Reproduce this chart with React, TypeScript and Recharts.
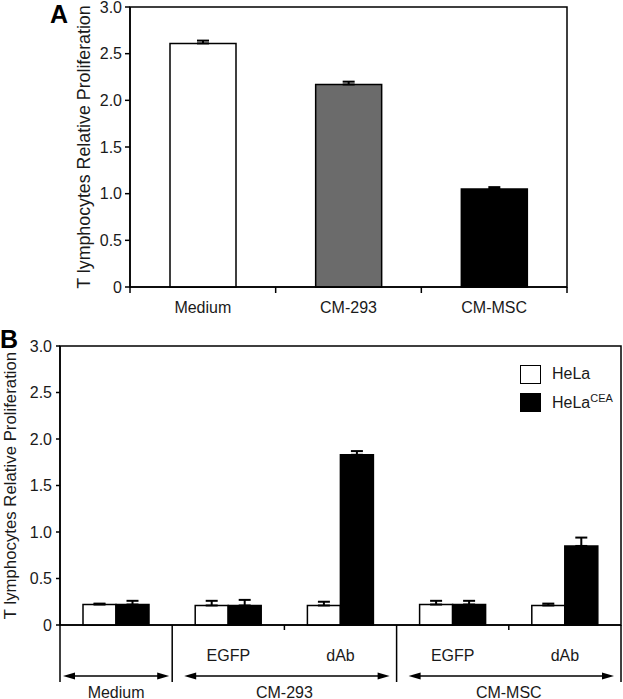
import React from 'react';
import { BarChart, Bar, XAxis, YAxis, ErrorBar, Cell, ReferenceArea, Legend } from 'recharts';

const FONT = '"Liberation Sans", Arial, Helvetica, sans-serif';
const INK = '#1a1a1a';

// Panel A
const categoriesA = ['Medium', 'CM-293', 'CM-MSC'];
const proliferationA = [2.61, 2.17, 1.05];
const errorA = [0.03, 0.03, 0.02];

// Panel B
const categoriesB = ['Medium', 'CM-293 EGFP', 'CM-293 dAb', 'CM-MSC EGFP', 'CM-MSC dAb'];
const subLabelsB = ['', 'EGFP', 'dAb', 'EGFP', 'dAb'];
const groupsB = ['Medium', 'CM-293', 'CM-MSC'];
const groupIndexB = [0, 1, 1, 2, 2];
const helaB = [0.22, 0.21, 0.21, 0.22, 0.21];
const helaErrB = [0.01, 0.05, 0.04, 0.04, 0.02];
const ceaB = [0.22, 0.21, 1.83, 0.22, 0.85];
const ceaErrB = [0.04, 0.06, 0.04, 0.04, 0.09];

const yTicks = [0, 0.5, 1, 1.5, 2, 2.5, 3];

const fillsA = ['#ffffff', '#6b6b6b', '#000000'];

const dataA = categoriesA.map((c, i) => ({
  name: c,
  value: proliferationA[i],
  err: [0, errorA[i]],
}));

const dataB = categoriesB.map((c, i) => ({
  key: c,
  hela: helaB[i],
  helaErr: [0, helaErrB[i]],
  cea: ceaB[i],
  ceaErr: [0, ceaErrB[i]],
}));

// geometry
const W = 623;
const PLOT_W_A = 437;
const PLOT_W_B = 561;
const halfBandA = PLOT_W_A / categoriesA.length / 2;
const halfBandB = PLOT_W_B / categoriesB.length / 2;

const fmtY = (v: number) => (v === 0 ? '0' : v.toFixed(1));

const yLabel = (cx: number, size: number) => (p: any) => {
  const vb = p.viewBox || {};
  const cy = vb.y + vb.height / 2;
  return (
    <text
      x={cx}
      y={cy}
      transform={`rotate(-90, ${cx}, ${cy})`}
      textAnchor="middle"
      dominantBaseline="central"
      fontSize={size}
      fontFamily={FONT}
      fill={INK}
    >
      T lymphocytes Relative Proliferation
    </text>
  );
};

const TickA = (props: any) => {
  const { x, y, index, payload } = props;
  return (
    <g>
      {index === 0 && <line x1={x - halfBandA} x2={x - halfBandA} y1={y} y2={y + 6} stroke="#000" strokeWidth={1.5} />}
      <line x1={x + halfBandA} x2={x + halfBandA} y1={y} y2={y + 6} stroke="#000" strokeWidth={1.5} />
      <text x={x} y={y + 20} textAnchor="middle" dominantBaseline="central" fontSize={16} fontFamily={FONT} fill={INK}>
        {payload.value}
      </text>
    </g>
  );
};

const Arrow = ({ x1, x2, y }: { x1: number; x2: number; y: number }) => (
  <g>
    <line x1={x1 + 8} x2={x2 - 8} y1={y} y2={y} stroke="#000" strokeWidth={1.5} />
    <polygon points={`${x1},${y} ${x1 + 12},${y - 3.5} ${x1 + 12},${y + 3.5}`} fill="#000" />
    <polygon points={`${x2},${y} ${x2 - 12},${y - 3.5} ${x2 - 12},${y + 3.5}`} fill="#000" />
  </g>
);

const TickB = (props: any) => {
  const { x, y, index } = props;
  const left = x - halfBandB;
  const right = x + halfBandB;
  const g = groupIndexB[index];
  const first = index === 0 || groupIndexB[index - 1] !== g;
  const last = index === categoriesB.length - 1 || groupIndexB[index + 1] !== g;
  const span = groupIndexB.filter((v) => v === g).length;
  const groupRight = left + span * 2 * halfBandB;
  const groupCenter = (left + groupRight) / 2;
  return (
    <g>
      {first && <line x1={left} x2={left} y1={y} y2={y + 57} stroke="#000" strokeWidth={1.5} />}
      {index === categoriesB.length - 1 && (
        <line x1={right} x2={right} y1={y} y2={y + 57} stroke="#000" strokeWidth={1.5} />
      )}
      {!last && <line x1={right} x2={right} y1={y} y2={y + 5} stroke="#000" strokeWidth={1.5} />}
      {subLabelsB[index] && (
        <text x={x} y={y + 30} textAnchor="middle" dominantBaseline="central" fontSize={16} fontFamily={FONT} fill={INK}>
          {subLabelsB[index]}
        </text>
      )}
      {first && (
        <>
          <Arrow x1={left + (index === 0 ? 3 : 12)} x2={groupRight - (index === 0 ? 3 : 7)} y={y + 51} />
          <text x={groupCenter} y={y + 67} textAnchor="middle" dominantBaseline="central" fontSize={16} fontFamily={FONT} fill={INK}>
            {groupsB[g]}
          </text>
        </>
      )}
    </g>
  );
};

const legendLabelsB = [
  { base: 'HeLa', sup: '' },
  { base: 'HeLa', sup: 'CEA' },
];

const renderLegendB = (props: any) => {
  const items = props.payload || [];
  return (
    <div style={{ fontFamily: FONT }}>
      {legendLabelsB.map((l, i) => (
        <div key={i} style={{ display: 'flex', alignItems: 'center', height: 28 }}>
          <span
            style={{
              display: 'inline-block',
              width: 21,
              height: 19,
              boxSizing: 'border-box',
              border: '1.5px solid #000',
              background: items[i]?.color ?? (i === 0 ? '#fff' : '#000'),
              marginRight: 11,
            }}
          />
          <span style={{ fontSize: 16, color: INK, whiteSpace: 'nowrap' }}>
            {l.base}
            {l.sup && <sup style={{ fontSize: 11, verticalAlign: 6 }}>{l.sup}</sup>}
          </span>
        </div>
      ))}
    </div>
  );
};

const axisStroke = { stroke: '#000', strokeWidth: 1.5 };

export default function App() {
  return (
    <div style={{ position: 'absolute', left: 0, top: 0, width: W, height: 699, background: '#fff', fontFamily: FONT }}>
      <div style={{ position: 'absolute', left: 50, top: 2, fontSize: 25, fontWeight: 'bold', lineHeight: '25px' }}>A</div>
      <div style={{ position: 'absolute', left: 0, top: 327, fontSize: 25, fontWeight: 'bold', lineHeight: '25px', zIndex: 2 }}>B</div>

      <div style={{ position: 'absolute', left: 0, top: 0 }}>
        <BarChart width={W} height={320} data={dataA} margin={{ top: 7, right: 56, bottom: 3, left: 85 }}>
          <ReferenceArea y1={0} y2={3} fill="none" stroke="#000" strokeWidth={1.5} ifOverflow="visible" />
          <XAxis dataKey="name" interval={0} height={30} tickSize={0} tickMargin={0} tickLine={false} axisLine={axisStroke} tick={<TickA />} />
          <YAxis
            domain={[0, 3]}
            ticks={yTicks}
            width={45}
            interval={0}
            tickFormatter={fmtY}
            tickSize={5}
            tickMargin={3}
            axisLine={axisStroke}
            tickLine={axisStroke}
            tick={{ fontSize: 16, fill: INK, fontFamily: FONT }}
            label={{ content: yLabel(84, 17.8) }}
          />
          <Bar dataKey="value" barSize={66} stroke="#000" strokeWidth={1.5} isAnimationActive={false}>
            {dataA.map((d, i) => (
              <Cell key={d.name} fill={fillsA[i]} />
            ))}
            <ErrorBar dataKey="err" width={6} strokeWidth={2} stroke="#000" direction="y" isAnimationActive={false} />
          </Bar>
        </BarChart>
      </div>

      <div style={{ position: 'absolute', left: 0, top: 330 }}>
        <BarChart width={W} height={369} data={dataB} margin={{ top: 16, right: 2, bottom: 0, left: 20 }} barGap={0}>
          <ReferenceArea y1={0} y2={3} fill="none" stroke="#000" strokeWidth={1.5} ifOverflow="visible" />
          <XAxis dataKey="key" interval={0} height={74} tickSize={0} tickMargin={0} tickLine={false} axisLine={axisStroke} tick={<TickB />} />
          <YAxis
            domain={[0, 3]}
            ticks={yTicks}
            width={40}
            interval={0}
            tickFormatter={fmtY}
            tickSize={4}
            tickMargin={4}
            axisLine={axisStroke}
            tickLine={axisStroke}
            tick={{ fontSize: 16, fill: INK, fontFamily: FONT }}
            label={{ content: yLabel(10, 16.8) }}
          />
          <Legend
            layout="vertical"
            align="center"
            verticalAlign="middle"
            wrapperStyle={{ top: 30, left: 520, width: 100 }}
            content={renderLegendB}
          />
          <Bar dataKey="hela" name="HeLa" fill="#ffffff" stroke="#000" strokeWidth={1.5} barSize={33} isAnimationActive={false}>
            <ErrorBar dataKey="helaErr" width={6} strokeWidth={2} stroke="#000" direction="y" isAnimationActive={false} />
          </Bar>
          <Bar dataKey="cea" name="HeLaCEA" fill="#000000" stroke="#000" strokeWidth={1.5} barSize={33} isAnimationActive={false}>
            <ErrorBar dataKey="ceaErr" width={6} strokeWidth={2} stroke="#000" direction="y" isAnimationActive={false} />
          </Bar>
        </BarChart>
      </div>
    </div>
  );
}
